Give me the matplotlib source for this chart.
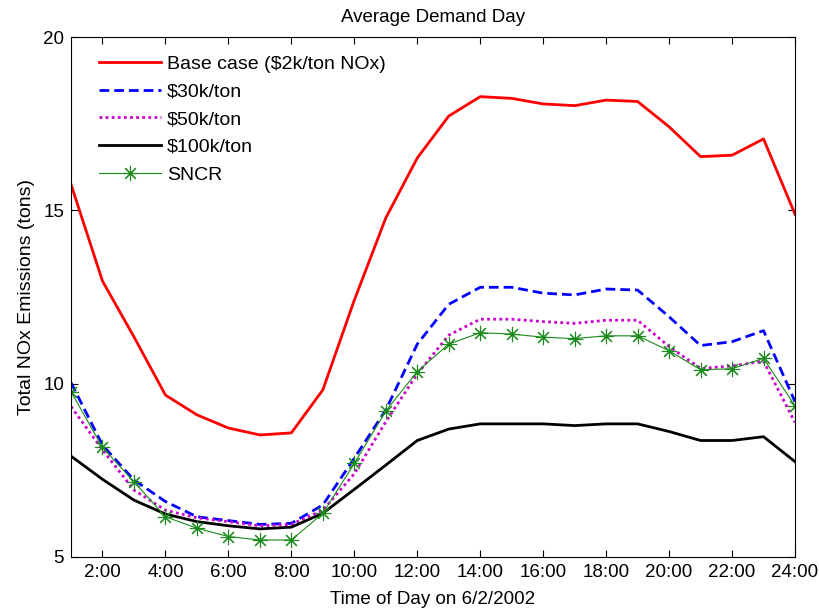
import numpy as np
import matplotlib
matplotlib.use('Agg')
import matplotlib.pyplot as plt

plt.rcParams['font.family'] = ['Liberation Sans', 'DejaVu Sans']

# hourly NOx emissions (tons), hours 1..24
hours = np.arange(1, 25)
base_case = [15.75, 12.96, 11.35, 9.67, 9.10, 8.72, 8.52, 8.58, 9.82, 12.41, 14.78, 16.51,
             17.72, 18.28, 18.23, 18.07, 18.02, 18.18, 18.14, 17.41, 16.55, 16.59, 17.06, 14.89]
tax_30k = [10.03, 8.23, 7.22, 6.60, 6.16, 6.05, 5.94, 5.97, 6.50, 7.85, 9.24, 11.14,
           12.29, 12.78, 12.78, 12.61, 12.56, 12.73, 12.70, 11.93, 11.10, 11.21, 11.53, 9.48]
tax_50k = [9.34, 8.09, 6.93, 6.35, 6.13, 6.02, 5.90, 5.94, 6.35, 7.40, 8.90, 10.28,
           11.40, 11.86, 11.86, 11.79, 11.74, 11.83, 11.83, 11.07, 10.44, 10.51, 10.65, 8.88]
tax_100k = [7.91, 7.24, 6.64, 6.24, 6.02, 5.90, 5.81, 5.86, 6.26, 6.95, 7.65, 8.36,
            8.69, 8.84, 8.84, 8.84, 8.79, 8.84, 8.84, 8.62, 8.36, 8.36, 8.47, 7.75]
sncr = [9.77, 8.16, 7.17, 6.16, 5.83, 5.59, 5.49, 5.49, 6.26, 7.70, 9.21, 10.35,
        11.14, 11.47, 11.43, 11.34, 11.30, 11.38, 11.38, 10.95, 10.40, 10.43, 10.73, 9.36]

tick_hours = np.arange(2, 25, 2)
tick_labels = ['%d:00' % h for h in tick_hours]

fs = 13.5

fig = plt.figure(figsize=(8.19, 6.13), dpi=100)
ax = fig.add_axes([0.0867, 0.0914, 0.884, 0.8482])

ax.plot(hours, base_case, color='#ff0000', lw=2.0, label='Base case ($2k/ton NOx)')
ax.plot(hours, tax_30k, color='#0000ff', lw=2.0, ls=(0, (3.5, 1.8)), label='$30k/ton')
ax.plot(hours, tax_50k, color='#cc00cc', lw=2.0, ls=(0, (1, 1.2)), label='$50k/ton')
ax.plot(hours, tax_100k, color='black', lw=2.0, label='$100k/ton')
ax.plot(hours, sncr, color='#1a8a1a', lw=0.8, marker=(8, 2, 0), ms=11, mew=0.8,
        label='SNCR')

ax.set_xlim(1, 24)
ax.set_ylim(5, 20)
ax.set_xticks(tick_hours)
ax.set_xticklabels(tick_labels)
ax.set_yticks([5, 10, 15, 20])
ax.tick_params(direction='in', top=True, right=True, labelsize=fs, length=5, width=0.8,
               pad=5)
for s in ax.spines.values():
    s.set_linewidth(0.8)

ax.set_title('Average Demand Day', fontsize=fs, pad=11)
ax.set_xlabel('Time of Day on 6/2/2002', fontsize=fs, labelpad=7)
ax.set_ylabel('Total NOx Emissions (tons)', fontsize=14, labelpad=6)

ax.legend(loc='upper left', frameon=False, fontsize=14, handlelength=3.2,
          handletextpad=0.3, labelspacing=0.52, borderaxespad=0.0,
          bbox_to_anchor=(0.028, 0.98), numpoints=1)

fig.savefig('out.png', dpi=100)
